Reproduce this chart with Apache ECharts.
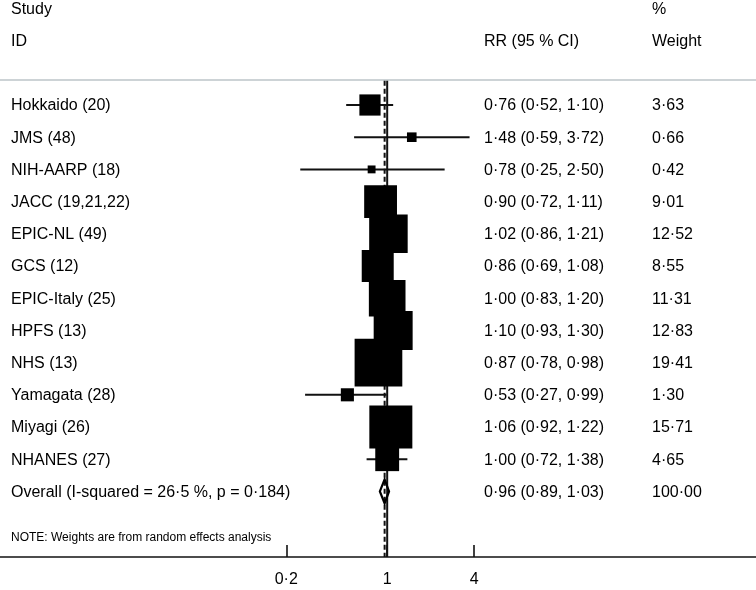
<!DOCTYPE html>
<html>
<head>
<meta charset="utf-8">
<script src="https://cdn.jsdelivr.net/npm/echarts@6/dist/echarts.min.js"></script>
<style>
html,body{margin:0;padding:0;background:#fff;}
#chart{width:756px;height:590px;}
</style>
</head>
<body>
<div id="chart"></div>
<script>
// ---- data ----
const studies = ['Hokkaido (20)','JMS (48)','NIH-AARP (18)','JACC (19,21,22)','EPIC-NL (49)','GCS (12)','EPIC-Italy (25)','HPFS (13)','NHS (13)','Yamagata (28)','Miyagi (26)','NHANES (27)'];
const rr      = [0.76, 1.48, 0.78, 0.90, 1.02, 0.86, 1.00, 1.10, 0.87, 0.53, 1.06, 1.00];
const ciLow   = [0.52, 0.59, 0.25, 0.72, 0.86, 0.69, 0.83, 0.93, 0.78, 0.27, 0.92, 0.72];
const ciHigh  = [1.10, 3.72, 2.50, 1.11, 1.21, 1.08, 1.20, 1.30, 0.98, 0.99, 1.22, 1.38];
const weights = [3.63, 0.66, 0.42, 9.01, 12.52, 8.55, 11.31, 12.83, 19.41, 1.30, 15.71, 4.65];
const overallLabel = 'Overall (I-squared = 26·5 %, p = 0·184)';
const overallEst = [0.96, 0.89, 1.03];   // RR, low, high
const overallWeight = '100·00';
const headerRow1 = ['Study', '', '%'];
const headerRow2 = ['ID', 'RR (95 % CI)', 'Weight'];
const noteText = 'NOTE: Weights are from random effects analysis';
const tickValues = [0.2, 1, 4];
const tickLabels = ['0·2', '1', '4'];
const nullValue = 1;

// ---- helpers ----
const fmt = v => v.toFixed(2).replace('.', '·');
const ln = Math.log;
const FONT = '16px "Liberation Sans", Arial, sans-serif';
const colX = [11, 484, 652];

const studyData = studies.map((s, i) => [i, ln(rr[i]), ln(ciLow[i]), ln(ciHigh[i]), weights[i]]);
const nRows = studies.length;
const overallRow = nRows;

const chart = echarts.init(document.getElementById('chart'), null, {renderer: 'canvas'});

function txt(x, y, t, font) {
  return {type: 'text', x: x, y: y, style: {text: t, font: font || FONT, fill: '#000', verticalAlign: 'middle', align: 'left'}};
}

const option = {
  animation: false,
  backgroundColor: '#fff',
  grid: {left: 0, right: 0, top: 0, bottom: 33, containLabel: false},
  xAxis: {
    type: 'value',
    min: -6.175, max: 5.882,
    splitLine: {show: false},
    axisLine: {show: true, onZero: false, lineStyle: {color: '#111', width: 1.6}},
    axisTick: {show: true, inside: true, length: 12, lineStyle: {color: '#111', width: 1.6},
               customValues: tickValues.map(ln)},
    axisLabel: {show: true, margin: 15, fontSize: 16, color: '#000', fontFamily: '"Liberation Sans", Arial, sans-serif',
                customValues: tickValues.map(ln),
                formatter: v => {
                  let k = 0, best = 1e9;
                  tickValues.forEach((t, j) => { const d = Math.abs(ln(t) - v); if (d < best) { best = d; k = j; } });
                  return tickLabels[k];
                }}
  },
  yAxis: {type: 'value', inverse: true, min: -3.261, max: 14.037, show: false},
  series: [
    // reference lines + separator
    {
      type: 'custom', clip: false, silent: true, z: 1,
      data: [[0]],
      renderItem: function (params, api) {
        const yTop = api.coord([0, -0.75])[1];
        const yBot = api.coord([0, 14.037])[1];
        const ySep = api.coord([0, -0.78])[1];
        const xNull = api.coord([ln(nullValue), 0])[0];
        const xOv = api.coord([ln(overallEst[0]), 0])[0];
        return {type: 'group', children: [
          {type: 'line', shape: {x1: 0, y1: ySep, x2: api.getWidth(), y2: ySep}, style: {stroke: '#cdd3d6', lineWidth: 2}},
          {type: 'line', shape: {x1: xNull, y1: yTop, x2: xNull, y2: yBot}, style: {stroke: '#111', lineWidth: 2}},
          {type: 'line', shape: {x1: xOv, y1: yTop, x2: xOv, y2: yBot}, style: {stroke: '#111', lineWidth: 2, lineDash: [5, 3]}}
        ]};
      }
    },
    // studies
    {
      type: 'custom', clip: false, silent: true, z: 3,
      data: studyData,
      renderItem: function (params, api) {
        const i = api.value(0);
        const pR = api.coord([api.value(1), i]);
        const pL = api.coord([api.value(2), i]);
        const pH = api.coord([api.value(3), i]);
        const y = pR[1];
        const s = 10.6 * Math.sqrt(api.value(4)) + 1;
        const idx = params.dataIndex;
        return {type: 'group', children: [
          {type: 'line', shape: {x1: pL[0], y1: y, x2: pH[0], y2: y}, style: {stroke: '#111', lineWidth: 2}},
          {type: 'rect', shape: {x: pR[0] - s / 2, y: y - s / 2, width: s, height: s}, style: {fill: '#000'}},
          txt(colX[0], y + 1, studies[idx]),
          txt(colX[1], y + 1, fmt(rr[idx]) + ' (' + fmt(ciLow[idx]) + ', ' + fmt(ciHigh[idx]) + ')'),
          txt(colX[2], y + 1, fmt(weights[idx]))
        ]};
      }
    },
    // overall
    {
      type: 'custom', clip: false, silent: true, z: 4,
      data: [[overallRow, ln(overallEst[0]), ln(overallEst[1]), ln(overallEst[2])]],
      renderItem: function (params, api) {
        const i = api.value(0);
        const pR = api.coord([api.value(1), i]);
        const pL = api.coord([api.value(2), i]);
        const pH = api.coord([api.value(3), i]);
        const y = pR[1], h = 12;
        return {type: 'group', children: [
          {type: 'polygon', shape: {points: [[pL[0], y], [pR[0], y - h], [pH[0], y], [pR[0], y + h]]},
           style: {fill: 'none', stroke: '#000', lineWidth: 2.2}},
          txt(colX[0], y + 1, overallLabel),
          txt(colX[1], y + 1, fmt(overallEst[0]) + ' (' + fmt(overallEst[1]) + ', ' + fmt(overallEst[2]) + ')'),
          txt(colX[2], y + 1, overallWeight)
        ]};
      }
    },
    // headers and note
    {
      type: 'custom', clip: false, silent: true, z: 5,
      data: [[-3], [-2]],
      renderItem: function (params, api) {
        const r = api.value(0);
        const y = api.coord([0, r])[1] + 1;
        const row = params.dataIndex === 0 ? headerRow1 : headerRow2;
        const ch = row.map((t, k) => txt(colX[k], y, t));
        if (params.dataIndex === 1) {
          const yn = api.coord([0, 13.43])[1];
          ch.push(txt(colX[0], yn, noteText, '12px "Liberation Sans", Arial, sans-serif'));
        }
        return {type: 'group', children: ch};
      }
    }
  ]
};
chart.setOption(option);
</script>
</body>
</html>
